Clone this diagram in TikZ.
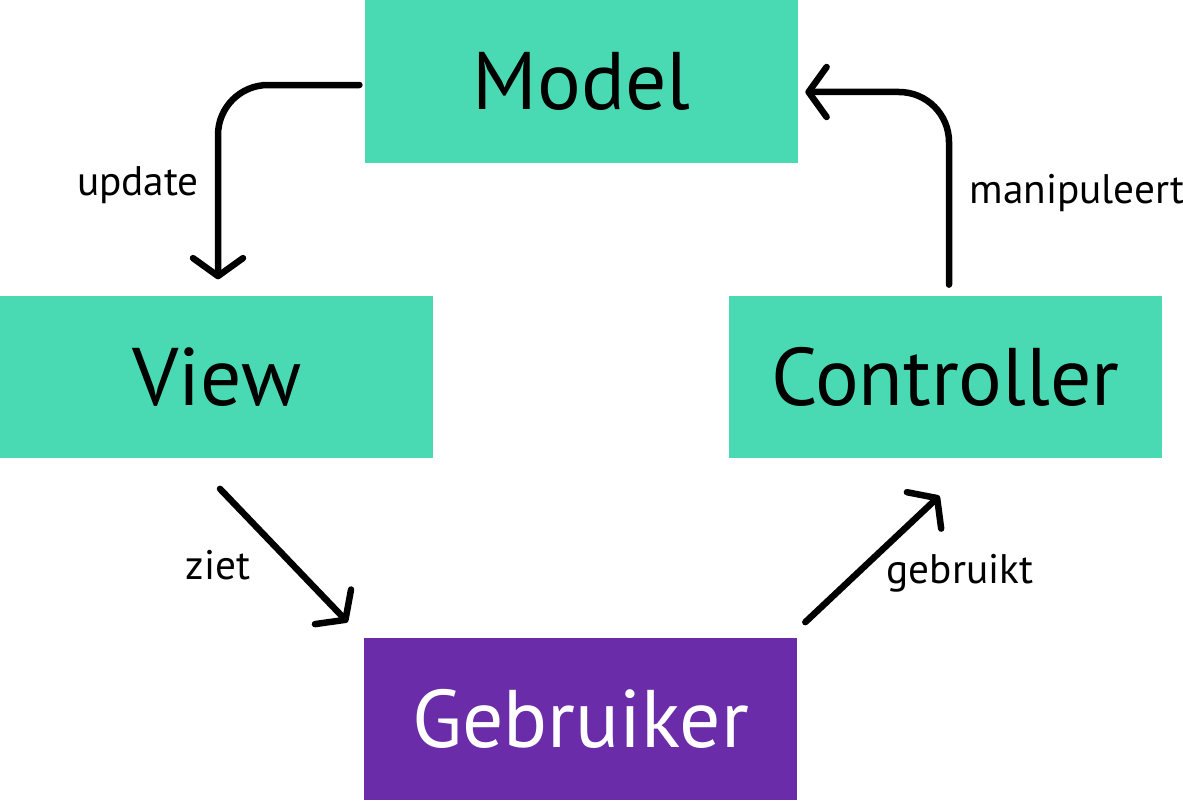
\documentclass[tikz,border=0pt]{standalone}
\usepackage{fontspec}
\setmainfont{PT Sans}
\usetikzlibrary{arrows.meta}
\definecolor{teal}{HTML}{49DAB4}
\definecolor{purp}{HTML}{6A2CA9}
\tikzset{
  box/.style={rectangle, inner sep=0pt, minimum width=8.66cm, minimum height=3.26cm, font=\fontsize{46.5}{50}\selectfont},
  mvc/.style={box, fill=teal, text=black},
  user/.style={box, fill=purp, text=white},
  lbl/.style={font=\fontsize{23.5}{27}\selectfont, inner sep=0pt},
  arr/.style={line width=3.7pt, line cap=round, line join=round,
    -{Straight Barb[length=0.36cm, width=1.0cm, line width=3.7pt, round]}}
}
\begin{document}
\begin{tikzpicture}[x=0.02cm, y=-0.02cm]
\useasboundingbox (0,0) rectangle (1183,801);
\node[mvc] (Model) at (581.5,81.5) {Model};
\node[mvc] (View) at (216.5,377) {View};
\node[mvc] (Controller) at (945.5,377) {Controller};
\node[user] (Gebruiker) at (580.5,719) {Gebruiker};
\draw[arr, rounded corners=1.0cm, shorten <=3pt, shorten >=9pt]
  ([yshift=-0.07cm]Model.west) -| ([xshift=0.03cm]View.north);
\draw[arr, rounded corners=1.0cm, shorten <=6pt, shorten >=4pt]
  ([xshift=0.07cm]Controller.north) |- ([yshift=-0.21cm]Model.east);
\draw[arr] ([shift={(3.5,30)}]View.south) -- ([shift={(-16,-15)}]Gebruiker.north west);
\draw[arr] ([shift={(8,-15)}]Gebruiker.north east) -- ([shift={(-6,37)}]Controller.south);
\node[lbl] (lupdate) at (138,185) {update};
\node[lbl] (lmanip) at (1077,193) {manipuleert};
\node[lbl] (lziet) at (218,565) {ziet};
\node[lbl] (lgebr) at (960,573) {gebruikt};
\end{tikzpicture}
\end{document}
